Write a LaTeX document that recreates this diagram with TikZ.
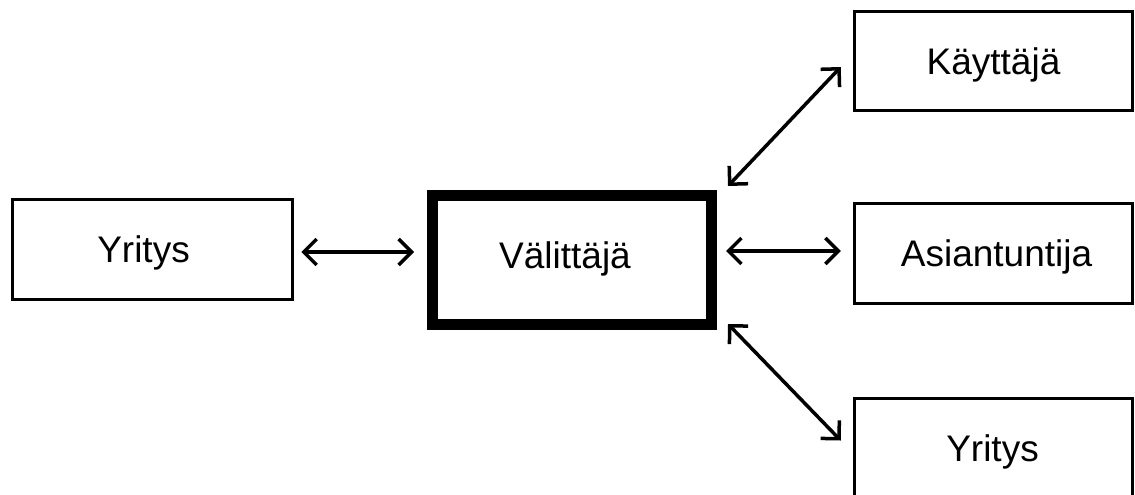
\documentclass[tikz,border=0pt]{standalone}
\usepackage{fontspec}
\setmainfont{Liberation Sans}
\usetikzlibrary{arrows.meta,calc}
\begin{document}
\begin{tikzpicture}[x=1pt,y=-1pt,
  box/.style={draw=black,line width=3.5pt,minimum width=278pt,minimum height=100pt,inner sep=0pt,fill=white},
  mainbox/.style={draw=black,line width=11pt,minimum width=279pt,minimum height=129pt,inner sep=0pt},
  txt/.style={font=\fontsize{37}{40}\selectfont,text height=26.5pt,text depth=0pt,inner sep=0pt},
  arr/.style={line width=3.5pt,{Straight Barb[length=13pt,width=26pt,line width=3.5pt]}-{Straight Barb[length=13pt,width=26pt,line width=3.5pt]}}]
\path[use as bounding box,clip] (0,0) rectangle (1135,495);
\fill[white] (0,0) rectangle (1135,495);
\node[box,minimum width=280pt] (Y1) at (152.5,249.5) {};
\node[mainbox] (V) at (572,260) {};
\node[box,minimum height=99pt] (K) at (993.5,61) {};
\node[box] (A) at (993.5,253.5) {};
\node[box] (Y2) at (993.5,448.5) {};
\node[txt] at ($(Y1)+(-9,0)$) {Yritys};
\node[txt] at ($(V)+(-7,-5)$) {Välittäjä};
\node[txt] at (K) {Käyttäjä};
\node[txt] at ($(A)+(3,0)$) {Asiantuntija};
\node[txt] at ($(Y2)+(-1,0)$) {Yritys};
\draw[arr] ($(Y1.east)+(7,2.5)$) -- ($(V.west)+(-13,-8)$);
\draw[arr] ($(V.east)+(9,-9)$) -- ($(A.west)+(-12,-2.5)$);
\draw[arr] ($(V.north east)+(11,-4)$) -- ($(K.west)+(-12,6)$);
\draw[arr] ($(V.south east)+(11,-6)$) -- ($(Y2.west)+(-12,-8)$);
\end{tikzpicture}
\end{document}
